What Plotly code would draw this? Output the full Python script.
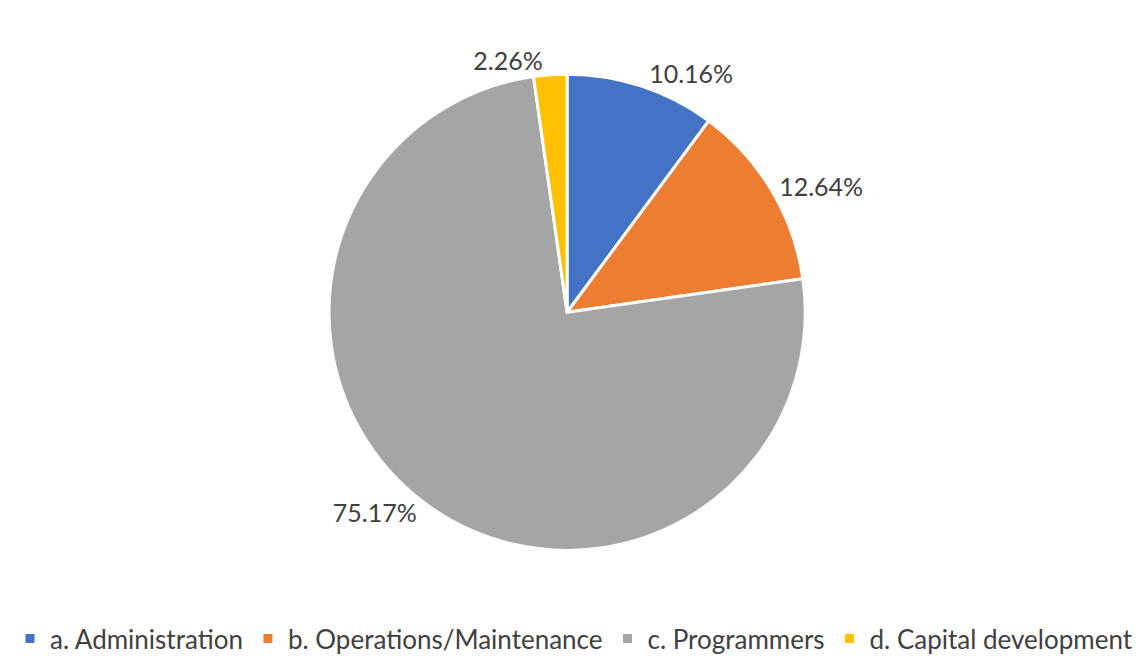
import plotly.graph_objects as go

categories = ["a. Administration", "b. Operations/Maintenance", "c. Programmers", "d. Capital development"]
values = [10.16, 12.64, 75.17, 2.26]
colors = ["#4472C4", "#ED7D31", "#A5A5A5", "#FFC000"]

fig = go.Figure(go.Pie(
    labels=categories,
    values=values,
    sort=False,
    direction="clockwise",
    rotation=0,
    marker=dict(colors=colors, line=dict(color="white", width=3)),
    textinfo="percent",
    texttemplate="%{value:.2f}%",
    textposition="outside",
    textfont=dict(size=25, color="#404040", family="Lato"),
    domain=dict(x=[0.2, 0.788], y=[0.161, 0.887]),
))

fig.update_layout(
    width=1148, height=662,
    margin=dict(l=0, r=0, t=0, b=0),
    paper_bgcolor="white",
    font=dict(family="Lato", size=26, color="#404040"),
    showlegend=True,
    legend=dict(orientation="h", x=0.5, xanchor="center", y=0.026, yanchor="middle",
                font=dict(size=26, color="#404040"), itemwidth=30),
)

fig.write_html("out.html")
